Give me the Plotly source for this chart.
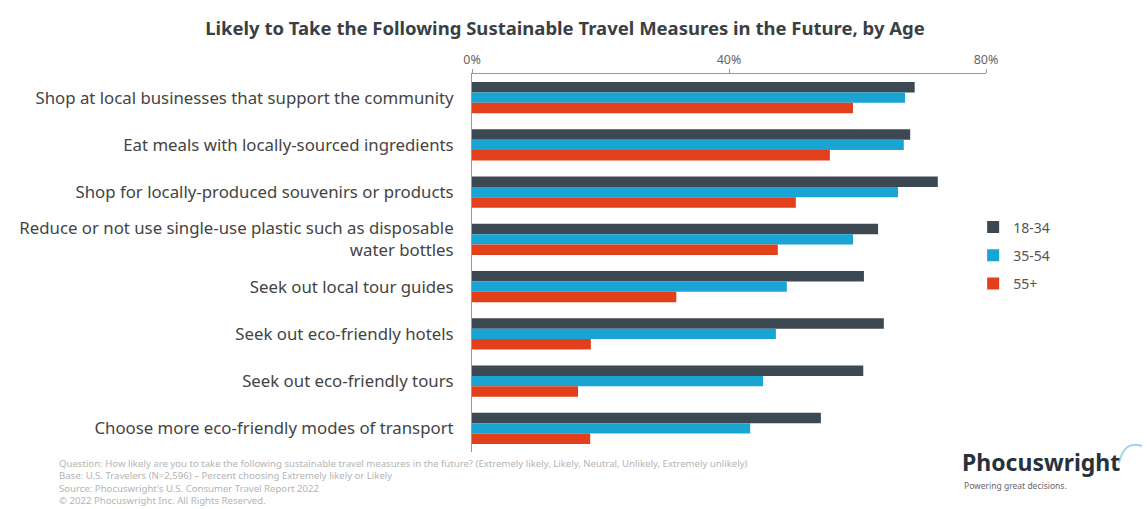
import plotly.graph_objects as go

categories = [
    "Shop at local businesses that support the community",
    "Eat meals with locally-sourced ingredients",
    "Shop for locally-produced souvenirs or products",
    "Reduce or not use single-use plastic such as disposable<br>water bottles",
    "Seek out local tour guides",
    "Seek out eco-friendly hotels",
    "Seek out eco-friendly tours",
    "Choose more eco-friendly modes of transport",
]
age_18_34 = [68.9, 68.2, 72.5, 63.2, 61.0, 64.1, 60.9, 54.3]
age_35_54 = [67.4, 67.2, 66.3, 59.3, 49.0, 47.3, 45.3, 43.3]
age_55_plus = [59.3, 55.7, 50.4, 47.6, 31.8, 18.5, 16.5, 18.4]
series_names = ["18-34", "35-54", "55+"]
colors = ["#3c4952", "#19a4d4", "#e2401b"]
tick_vals = [0, 40, 80]
tick_text = ["0%", "40%", "80%"]

fig = go.Figure()
for name, vals, col in zip(series_names, [age_18_34, age_35_54, age_55_plus], colors):
    fig.add_trace(go.Bar(
        y=categories, x=vals, name=name, orientation="h", legendgroup=name,
        marker=dict(color=col, line=dict(width=0)),
    ))

font_family = "'Noto Sans', 'Open Sans', sans-serif"
fig.update_layout(
    width=1147, height=509,
    margin=dict(l=472, r=161, t=74, b=57),
    paper_bgcolor="#ffffff", plot_bgcolor="#ffffff",
    barmode="group", bargap=0.34, bargroupgap=0,
    font=dict(family=font_family, color="#444444"),
    title=dict(
        text="<b>Likely to Take the Following Sustainable Travel Measures in the Future, by Age</b>",
        x=565 / 1147, xanchor="center", y=0.944, yanchor="middle",
        font=dict(size=18.5, color="#3a3f44", family=font_family),
    ),
    xaxis=dict(
        side="top", range=[0, 80], tickvals=tick_vals, ticktext=tick_text,
        showgrid=False, zeroline=False, showline=True, linecolor="#9a9a9a", linewidth=1,
        ticks="outside", ticklen=4, tickcolor="#9a9a9a",
        tickfont=dict(size=12.5, color="#666666"),
    ),
    yaxis=dict(
        autorange="reversed", showgrid=False, zeroline=False,
        showline=True, linecolor="#9a9a9a", linewidth=1,
        ticks="", ticklabelstandoff=14,
        tickfont=dict(size=16.8, color="#444444"),
    ),
    legend=dict(
        x=0.975, xanchor="left", y=0.52, yanchor="middle",
        font=dict(size=14, color="#555555"), itemwidth=30,
        tracegroupgap=7, traceorder="grouped",
        bgcolor="rgba(0,0,0,0)",
    ),
    showlegend=True,
)

foot = ("Question: How likely are you to take the following sustainable travel measures in the future? (Extremely likely, Likely, Neutral, Unlikely, Extremely unlikely)<br>"
        "Base: U.S. Travelers (N=2,596) – Percent choosing Extremely likely or Likely<br>"
        "Source: Phocuswright's U.S. Consumer Travel Report 2022<br>"
        "© 2022 Phocuswright Inc. All Rights Reserved.")
fig.add_annotation(
    text=foot, xref="paper", yref="paper", x=-(472 - 57) / 514, y=-(455 - 452) / 378,
    xanchor="left", yanchor="top", align="left", showarrow=False,
    font=dict(size=9.6, color="#b4b4b4", family=font_family),
)
fig.add_annotation(
    text="<b>Phocuswright</b>", xref="paper", yref="paper",
    x=(960 - 472) / 514, y=-(444 - 452) / 378,
    xanchor="left", yanchor="top", showarrow=False,
    font=dict(size=23, color="#27323a", family=font_family),
)
fig.add_annotation(
    text="Powering great decisions.", xref="paper", yref="paper",
    x=(962 - 472) / 514, y=-(478 - 452) / 378,
    xanchor="left", yanchor="top", showarrow=False,
    font=dict(size=8.5, color="#666666", family=font_family),
)
fig.add_shape(
    type="path", xref="paper", yref="paper",
    path="M %f %f Q %f %f %f %f" % ((1119 - 472) / 514, -(463 - 452) / 378,
                                    (1124 - 472) / 514, -(440 - 452) / 378,
                                    (1142 - 472) / 514, -(446 - 452) / 378),
    line=dict(color="#9fd3e8", width=2),
)

fig.write_html("out.html")
